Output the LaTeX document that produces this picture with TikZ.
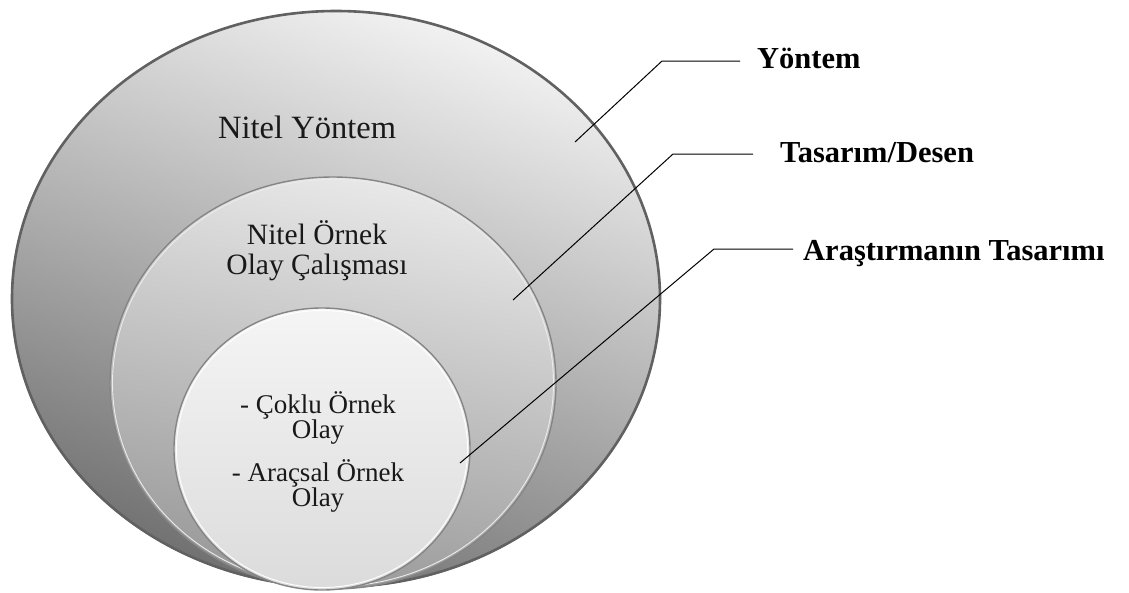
\documentclass[tikz,border=0pt]{standalone}
\usepackage{fontspec}
\setmainfont{Liberation Serif}
\begin{document}
\begin{tikzpicture}[x=1pt,y=-1pt,
  inscr/.style={text=black!90, inner sep=0pt, align=center},
  tag/.style={text=black, inner sep=0pt, anchor=base west,
    font=\bfseries\fontsize{30.5}{32}\selectfont},
  leader/.style={draw=black, line width=1pt}]
\useasboundingbox (0,0) rectangle (1129,592);

% outer disc: method
\shade[top color=black!5, bottom color=black!56, shading angle=-20]
  (336,299) ellipse [x radius=325pt, y radius=289pt];
\draw[black!62, line width=2.6pt] (336,299) ellipse [x radius=324pt, y radius=288pt];

% middle disc: design
\shade[top color=black!9, bottom color=black!40, shading angle=-12]
  (333,383) ellipse [x radius=223pt, y radius=206pt];
\draw[black!48, line width=1.4pt] (333,383) ellipse [x radius=223pt, y radius=206pt];
\draw[white!92!black, line width=0.9pt] (333,383) ellipse [x radius=220.5pt, y radius=203.5pt];

% inner disc: research design
\shade[top color=black!4, bottom color=black!14]
  (322,449) ellipse [x radius=148pt, y radius=141pt];
\draw[black!48, line width=1.4pt] (322,449) ellipse [x radius=148pt, y radius=141pt];
\draw[white, line width=0.9pt] (322,449) ellipse [x radius=145.5pt, y radius=138.5pt];

% texts inside the discs
\node[inscr, anchor=base west, font=\fontsize{32.5}{34}\selectfont] (ny) at (218,138) {Nitel Yöntem};
\node[inscr, font=\fontsize{29.5}{30}\selectfont] (no) at (317,251) {Nitel Örnek\\Olay Çalışması};
\node[inscr, font=\fontsize{27}{25}\selectfont] (co) at (318,452) {- Çoklu Örnek\\Olay\\[15pt]- Araçsal Örnek\\Olay};

% leader points
\coordinate (d1) at (575,142);
\coordinate (k1) at (662,61);
\coordinate (e1) at (740,61);
\coordinate (d2) at (513,300);
\coordinate (k2) at (673,154);
\coordinate (e2) at (753,154);
\coordinate (d3) at (460,463);
\coordinate (k3) at (714,249);
\coordinate (e3) at (793,249);

% labels
\node[tag] (l1) at (757,68) {Yöntem};
\node[tag] (l2) at (780,162) {Tasarım/Desen};
\node[tag] (l3) at (803,260) {Araştırmanın Tasarımı};

\draw[leader] (d1) -- (k1) -- (e1);
\draw[leader] (d2) -- (k2) -- (e2);
\draw[leader] (d3) -- (k3) -- (e3);
\end{tikzpicture}
\end{document}
